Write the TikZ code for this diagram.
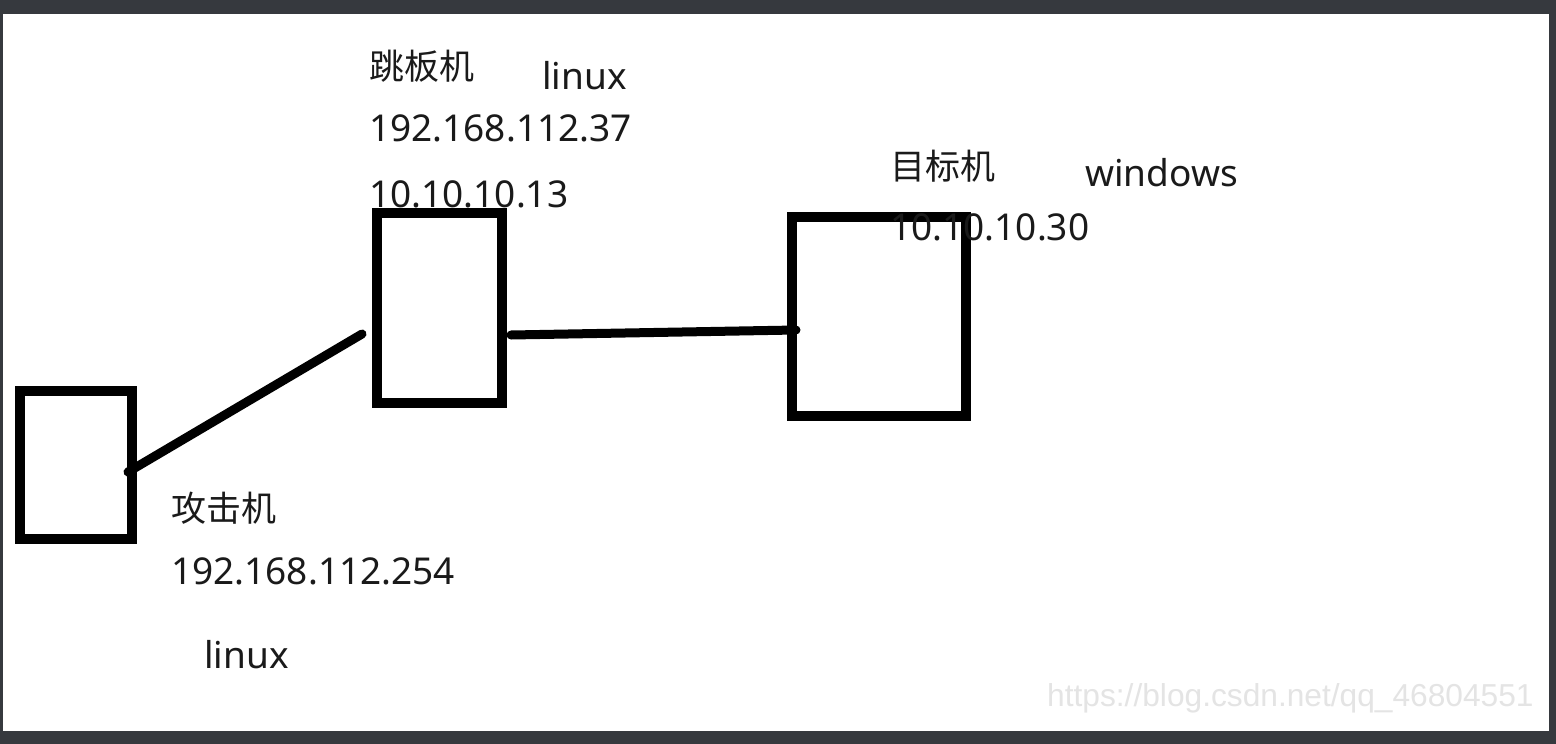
\documentclass[tikz,border=0pt]{standalone}
\usepackage{fontspec}
\setmainfont{Noto Sans}
\newfontfamily\cjk{Noto Sans CJK SC}
\newfontfamily\wmfont{Liberation Sans}
\definecolor{framegray}{HTML}{36393E}
\definecolor{wmgray}{HTML}{E4E4E4}
\definecolor{inkcol}{HTML}{1A1A1A}
\begin{document}
\begin{tikzpicture}[x=1pt,y=-1pt,
  box/.style={draw=black,line width=10pt,rectangle,inner sep=0pt},
  link/.style={draw=black,line width=9pt,line cap=round},
  lbl/.style={anchor=base west,inner sep=0pt,text=inkcol,font=\fontsize{37}{40}\selectfont},
  cjklbl/.style={anchor=base west,inner sep=0pt,text=inkcol,font=\cjk\fontsize{35}{40}\selectfont},
  wm/.style={anchor=base west,inner sep=0pt,text=wmgray,font=\wmfont\fontsize{31.7}{34}\selectfont}]
\useasboundingbox (0,0) rectangle (1556,744);
\fill[framegray] (0,0) rectangle (1556,744);
\fill[white] (3,14) rectangle (1549,731);
% boxes
\node[box,minimum width=112pt,minimum height=148pt] (attacker) at (76,465) {};
\node[box,minimum width=125pt,minimum height=190pt] (jump) at (439.5,308) {};
\node[box,minimum width=174pt,minimum height=199pt] (target) at (879,316.5) {};
% connectors
\coordinate (a1) at (128,472);
\coordinate (a2) at (362,334);
\coordinate (b1) at (511,335);
\coordinate (b2) at (796,330);
\draw[link] (a1) -- (a2);
\draw[link] (b1) -- (b2);
% labels jump host
\node[cjklbl] (jname) at (369,79) {跳板机};
\node[lbl] (jos) at (542,89) {linux};
\node[lbl] (jip1) at (369,141) {192.168.112.37};
\node[lbl] (jip2) at (369,207) {10.10.10.13};
% labels target
\node[cjklbl] (tname) at (890,179) {目标机};
\node[lbl] (tos) at (1085,186) {windows};
\node[lbl] (tip) at (890,240) {10.10.10.30};
% labels attacker
\node[cjklbl] (aname) at (171,521) {攻击机};
\node[lbl] (aip) at (171,584) {192.168.112.254};
\node[lbl] (aos) at (204,668) {linux};
% watermark
\node[wm] (wmark) at (1047,706) {https://blog.csdn.net/qq\_46804551};
\end{tikzpicture}
\end{document}
